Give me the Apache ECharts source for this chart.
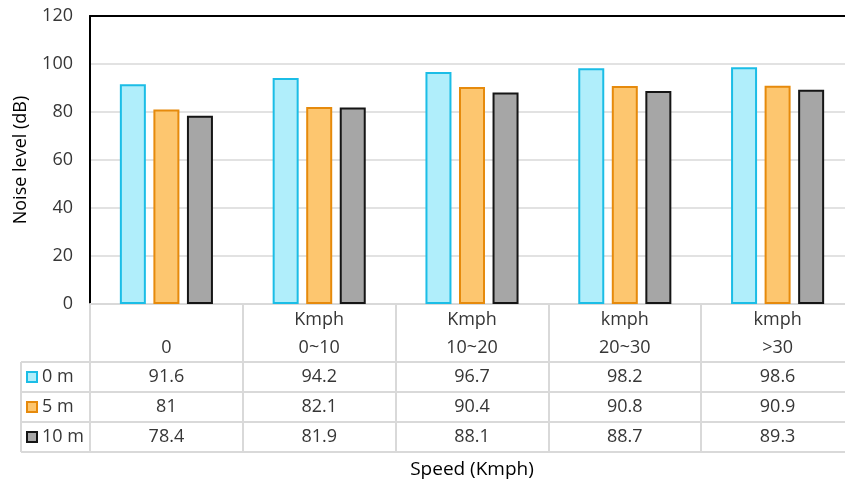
<!DOCTYPE html>
<html>
<head>
<meta charset="utf-8">
<script src="https://cdn.jsdelivr.net/npm/echarts@6/dist/echarts.min.js"></script>
<style>
  html, body { margin: 0; padding: 0; background: #fff; }
  #chart { width: 845px; height: 484px; }
</style>
</head>
<body>
<div id="chart"></div>
<script>
// Speed bands (second header line) and their unit line (first header line)
const categories = ['0', '0~10', '10~20', '20~30', '>30'];
const speedUnits = ['', 'Kmph', 'Kmph', 'kmph', 'kmph'];

// Measurement distances
const seriesNames = ['0 m', '5 m', '10 m'];

// Noise level (dB) per speed band
const noise0m = [91.6, 94.2, 96.7, 98.2, 98.6];
const noise5m = [81, 82.1, 90.4, 90.8, 90.9];
const noise10m = [78.4, 81.9, 88.1, 88.7, 89.3];

// Value axis
const yMin = 0, yMax = 120, yStep = 20;

const seriesValues = [noise0m, noise5m, noise10m];
const fills = ['#b0eefb', '#fdc66f', '#a6a6a6'];
const strokes = ['#1bbde6', '#e68a0c', '#151515'];

const FONT = '"Open Sans", "Noto Sans", sans-serif';
const FS = 18;
const TEXT = '#363636';
const LINE = '#d9d9d9';

const chart = echarts.init(document.getElementById('chart'), null, { renderer: 'canvas' });

const GRID = { left: 90, top: 16, width: 764, height: 288, outerBoundsMode: 'none', containLabel: false };

chart.setOption({
  animation: false,
  backgroundColor: '#fff',
  grid: GRID,
  xAxis: [{
    type: 'category',
    data: categories,
    position: 'bottom',
    axisLine: { show: true, lineStyle: { color: LINE, width: 2 } },
    axisTick: { show: true, length: 148, lineStyle: { color: LINE, width: 2 } },
    axisLabel: {
      show: true,
      margin: 2,
      lineHeight: 28,
      fontSize: FS,
      fontFamily: FONT,
      color: TEXT,
      verticalAlign: 'top',
      formatter: (v, i) => speedUnits[i] + '\n' + v
    },
    name: 'Speed (Kmph)',
    nameLocation: 'middle',
    nameGap: 156,
    nameTextStyle: { fontSize: 19, fontFamily: FONT, color: '#000' }
  }, {
    type: 'category',
    data: categories,
    position: 'top',
    axisLine: { show: true, lineStyle: { color: '#000', width: 2 } },
    axisTick: { show: false },
    axisLabel: { show: false }
  }],
  yAxis: {
    type: 'value',
    min: yMin,
    max: yMax,
    interval: yStep,
    axisLine: { show: true, lineStyle: { color: '#000', width: 2 } },
    axisTick: { show: false },
    axisLabel: { fontSize: FS, fontFamily: FONT, color: TEXT, margin: 17 },
    splitLine: { lineStyle: { color: LINE, width: 1.5 } },
    name: 'Noise level (dB)',
    nameLocation: 'middle',
    nameGap: 60,
    nameTextStyle: { fontSize: FS, fontFamily: FONT, color: '#000' }
  },
  series: seriesNames.map((name, k) => ({
    name,
    type: 'bar',
    data: seriesValues[k],
    barWidth: 26,
    barGap: '29%',
    itemStyle: { color: fills[k], borderColor: strokes[k], borderWidth: 2 }
  }))
});

// Data table below the plot: row lines, legend keys and values
function drawTable() {
  const x0 = chart.convertToPixel({ xAxisIndex: 0 }, 0);
  const x1 = chart.convertToPixel({ xAxisIndex: 0 }, 1);
  const band = x1 - x0;
  const right = x0 - band / 2 + band * categories.length;
  const tableLeft = 21;
  const headerBottom = 362;
  const rowH = 30;
  const els = [];

  // horizontal rules
  for (let r = 0; r <= seriesNames.length; r++) {
    const y = headerBottom + r * rowH;
    els.push({ type: 'line', shape: { x1: tableLeft, y1: y, x2: right, y2: y },
      style: { stroke: LINE, lineWidth: 2 }, z: 1 });
  }
  // left border of the legend column
  els.push({ type: 'line', shape: { x1: tableLeft, y1: headerBottom, x2: tableLeft, y2: headerBottom + rowH * seriesNames.length },
    style: { stroke: LINE, lineWidth: 2 }, z: 1 });

  seriesNames.forEach((name, k) => {
    const cy = headerBottom + rowH * k + rowH / 2;
    els.push({ type: 'rect', shape: { x: 27, y: cy - 5, width: 10, height: 10 },
      style: { fill: fills[k], stroke: strokes[k], lineWidth: 2 }, z: 2 });
    els.push({ type: 'text', x: 42, y: cy,
      style: { text: name, font: FS + 'px ' + FONT, fill: TEXT, textAlign: 'left', textVerticalAlign: 'middle' }, z: 2 });
    seriesValues[k].forEach((v, i) => {
      const cx = chart.convertToPixel({ xAxisIndex: 0 }, i);
      els.push({ type: 'text', x: cx, y: cy,
        style: { text: String(v), font: FS + 'px ' + FONT, fill: TEXT, textAlign: 'center', textVerticalAlign: 'middle' }, z: 2 });
    });
  });

  chart.setOption({ graphic: { elements: els } });
}
drawTable();
</script>
</body>
</html>
